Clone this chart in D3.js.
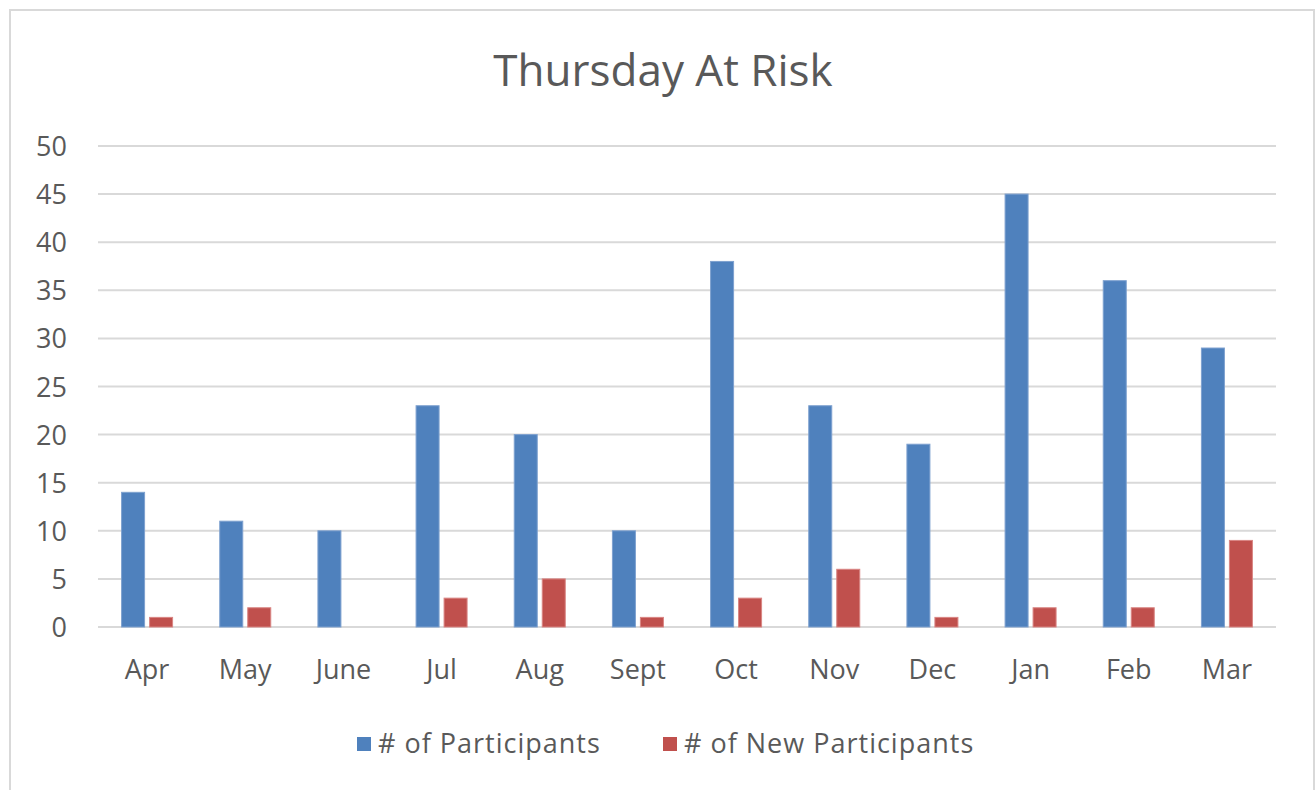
<!DOCTYPE html>
<html><head><meta charset="utf-8">
<script src="https://cdn.jsdelivr.net/npm/d3@7"></script>
<style>body{margin:0;background:#fff;} svg{display:block;} text{font-family:"Open Sans","Noto Sans",sans-serif;fill:#595959;}</style>
</head><body>
<svg id="c" width="1316" height="790"></svg>
<script>
const categories = ["Apr","May","June","Jul","Aug","Sept","Oct","Nov","Dec","Jan","Feb","Mar"];
const participants = [14,11,10,23,20,10,38,23,19,45,36,29];
const newParticipants = [1,2,0,3,5,1,3,6,1,2,2,9];
const seriesNames = ["# of Participants","# of New Participants"];
const seriesColors = ["#4f81bd","#c0504d"];
const yTicks = [0,5,10,15,20,25,30,35,40,45,50];
const title = "Thursday At Risk";

const svg = d3.select("#c");
svg.append("rect").attr("x",10).attr("y",10).attr("width",1304).attr("height",790).attr("fill","#fff").attr("stroke","#d9d9d9").attr("stroke-width",2);

const L=98,R=1276,T=146,B=627;
const x = d3.scaleBand().domain(categories).range([L,R]);
const y = d3.scaleLinear().domain([0,50]).range([B,T]);

svg.append("text").attr("x",663).attr("y",86).attr("text-anchor","middle").style("font-size","44px").text(title);

const g = svg.append("g");
g.selectAll("line.grid").data(yTicks).join("line").attr("x1",L).attr("x2",R)
 .attr("y1",d=>y(d)).attr("y2",d=>y(d)).attr("stroke","#d9d9d9").attr("stroke-width",2);
g.selectAll("text.yt").data(yTicks).join("text").attr("x",67).attr("y",d=>y(d)+10).attr("text-anchor","end")
 .style("font-size","27px").text(d=>d);

const bw=23, gap=5;
const series=[participants,newParticipants];
series.forEach((vals,si)=>{
  g.selectAll("rect.s"+si).data(categories).join("rect")
   .attr("x",c=>x(c)+x.bandwidth()/2 + (si===0? -bw-gap/2 : gap/2))
   .attr("width",bw)
   .attr("y",(c,i)=>y(vals[i]))
   .attr("height",(c,i)=>B-y(vals[i]))
   .attr("fill",seriesColors[si]).attr("stroke", si===0?"#7ea1cf":"#d98583").attr("stroke-width",1)
   .attr("display",(c,i)=>vals[i]===0?"none":null);
});

g.selectAll("text.xt").data(categories).join("text").attr("x",c=>x(c)+x.bandwidth()/2).attr("y",679)
 .attr("text-anchor","middle").style("font-size","27px").text(c=>c);

const legX=[357,663];
seriesNames.forEach((n,i)=>{
  svg.append("rect").attr("x",legX[i]).attr("y",737).attr("width",14).attr("height",14).attr("fill",seriesColors[i]);
  svg.append("text").attr("x",legX[i]+21).attr("y",753).style("font-size","27px").style("letter-spacing","1px").text(n);
});
</script>
</body></html>
